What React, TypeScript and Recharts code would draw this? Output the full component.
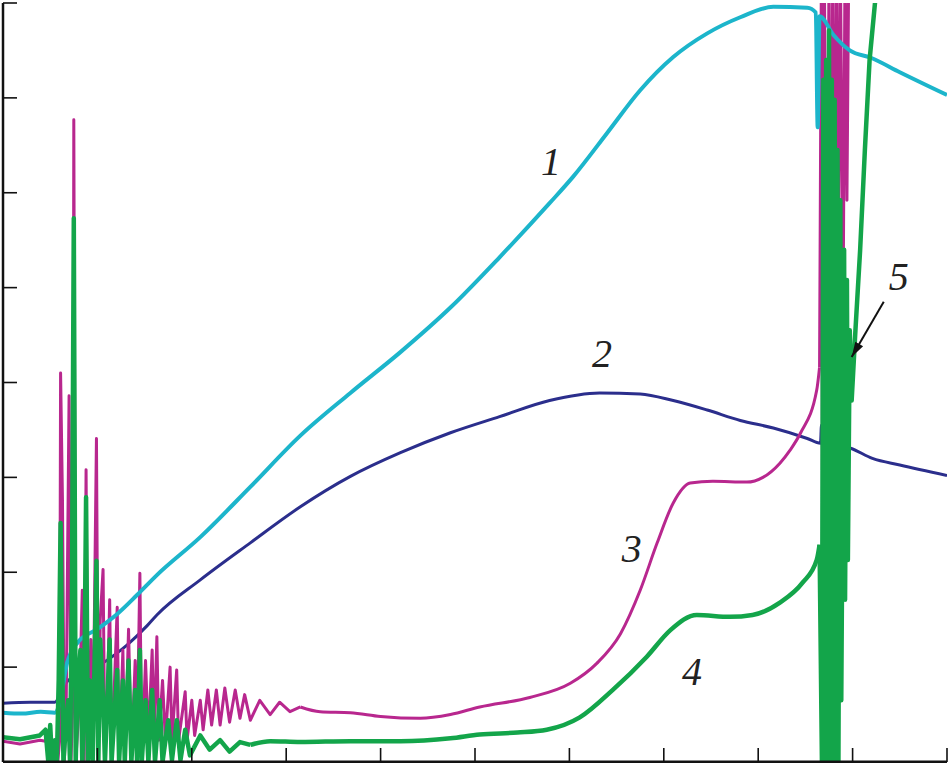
import React from "react";
import { LineChart, Line, XAxis, YAxis, ReferenceDot, ReferenceLine } from "recharts";

// axis ticks (no labels in the figure, only inward tick marks)
const xTicks = [0, 1, 2, 3, 4, 5, 6, 7, 8, 9, 10];
const yTicks = [0, 1, 2, 3, 4, 5, 6, 7, 8];

// curve 1 (cyan)
const curve1: [number, number][] = [
  [0, 0.52], [0.2, 0.51], [0.4, 0.53], [0.55, 0.52], [0.6, 0.62], [0.68, 1.05], [0.8, 1.27], [1.0, 1.4],
  [1.21, 1.56], [1.42, 1.76], [1.63, 1.97], [2.09, 2.37], [2.62, 2.9], [3.15, 3.44], [3.68, 3.89],
  [4.21, 4.32], [4.74, 4.79], [5.26, 5.32], [5.79, 5.89], [6.04, 6.17], [6.4, 6.63], [6.75, 7.08],
  [7.1, 7.43], [7.46, 7.68], [7.81, 7.85], [8.16, 7.96], [8.52, 7.95], [8.61, 7.9], [8.63, 6.69],
  [8.65, 7.86], [8.8, 7.66], [8.97, 7.5], [9.2, 7.42], [9.5, 7.27], [10, 7.03],
];

// curve 2 (dark blue)
const curve2: [number, number][] = [
  [0, 0.62], [0.29, 0.63], [0.55, 0.63], [0.64, 0.8], [0.9, 0.98], [1.05, 1.04], [1.21, 1.15],
  [1.31, 1.23], [1.53, 1.44], [1.63, 1.55], [2.09, 1.92], [2.62, 2.31], [3.15, 2.69], [3.68, 3.01],
  [4.21, 3.26], [4.74, 3.47], [5.26, 3.64], [5.79, 3.81], [6.32, 3.89], [6.75, 3.88], [7.1, 3.81],
  [7.46, 3.71], [7.81, 3.6], [8.16, 3.52], [8.52, 3.41], [8.66, 3.36], [8.67, 3.55], [8.69, 3.15],
  [8.7, 3.35], [8.97, 3.31], [9.21, 3.2], [9.5, 3.13], [10, 3.02],
];

// curve 3 (magenta): oscillating start, smooth rise, burst
const curve3Start: [number, number][] = [
  [0, 0.22], [0.18, 0.19], [0.39, 0.23], [0.5, 0.21], [0.56, 0.22],
  [0.58, 0], [0.6, 0.23], [0.61, 4.1], [0.63, 2.76], [0.65, 0], [0.67, 0.65], [0.7, 3.86], [0.72, 0],
  [0.74, 0.65], [0.75, 6.77], [0.77, 0], [0.81, 0.65], [0.84, 1.81], [0.86, 0], [0.88, 3.08], [0.9, 0],
  [0.93, 1.29], [0.95, 0], [0.99, 3.41], [1.01, 0], [1.03, 1.5], [1.06, 2.03], [1.08, 0], [1.11, 0.86],
  [1.13, 1.71], [1.15, 0], [1.21, 1.63], [1.23, 0], [1.27, 1.18], [1.29, 0], [1.33, 1.4], [1.36, 0],
  [1.4, 1.07], [1.42, 0.23], [1.45, 1.99], [1.47, 0], [1.51, 1.07], [1.54, 0.23], [1.58, 1.18],
  [1.6, 0.23], [1.63, 1.32], [1.65, 0.23], [1.69, 0.86], [1.72, 0.23], [1.77, 1.0], [1.79, 0.23],
  [1.84, 0.97], [1.86, 0.23], [1.93, 0.74], [1.95, 0.23], [2.0, 0.65], [2.03, 0.28], [2.09, 0.65],
  [2.12, 0.34], [2.17, 0.76], [2.21, 0.39], [2.26, 0.76], [2.3, 0.39], [2.35, 0.78], [2.4, 0.42],
  [2.46, 0.76], [2.51, 0.46], [2.56, 0.71], [2.62, 0.44], [2.72, 0.65], [2.83, 0.5], [2.93, 0.63],
  [3.04, 0.53], [3.15, 0.58],
];
const curve3Rise: [number, number][] = [
  [3.15, 0.58], [3.36, 0.53], [3.68, 0.52], [4.0, 0.48], [4.42, 0.46], [4.74, 0.5],
  [5.05, 0.58], [5.58, 0.68], [6.01, 0.83], [6.29, 1.04], [6.54, 1.35], [6.75, 1.81], [6.93, 2.31],
  [7.1, 2.73], [7.28, 2.94], [7.52, 2.96], [7.88, 2.95], [8.05, 3.0], [8.23, 3.15], [8.34, 3.29],
  [8.45, 3.47], [8.62, 3.92], [8.65, 4.16],
];
const curve3Burst: [number, number][] = [
  [8.65, 4.16], [8.67, 8.5], [8.68, 3.08], [8.7, 8.5], [8.73, 3.6], [8.75, 8.5], [8.77, 4.34], [8.79, 8.5],
  [8.81, 4.87], [8.83, 8.5], [8.85, 5.08], [8.87, 8.5], [8.9, 4.87], [8.92, 8.5], [8.94, 5.92], [8.96, 8.5],
];

// curve 4 (green): oscillating start, smooth rise, burst (5)
const curve4Start: [number, number][] = [
  [0, 0.26], [0.18, 0.24], [0.39, 0.28], [0.45, 0.34], [0.48, 0], [0.5, 0.39], [0.52, 0], [0.55, 0.23],
  [0.57, 0], [0.59, 0.86], [0.61, 2.52], [0.64, 0], [0.67, 0.44], [0.69, 0.65], [0.71, 0], [0.73, 1.71],
  [0.75, 5.73], [0.77, 0], [0.79, 0.76], [0.82, 1.18], [0.84, 0], [0.86, 0.65], [0.88, 2.79], [0.9, 0],
  [0.92, 0.86], [0.95, 0], [0.99, 2.12], [1.01, 0], [1.03, 1.29], [1.06, 0.65], [1.08, 0], [1.13, 1.29],
  [1.15, 0], [1.21, 0.97], [1.23, 0], [1.27, 0.86], [1.29, 0], [1.33, 1.07], [1.36, 0], [1.4, 0.76],
  [1.42, 0], [1.45, 1.18], [1.47, 0], [1.51, 0.65], [1.54, 0], [1.58, 0.76], [1.61, 0], [1.66, 0.65],
  [1.69, 0], [1.75, 0.44], [1.79, 0.02], [1.84, 0.44], [1.88, 0.02], [1.93, 0.34], [1.98, 0.07],
  [2.09, 0.28], [2.19, 0.13], [2.3, 0.23], [2.4, 0.11], [2.51, 0.21], [2.62, 0.18],
];
const curve4Rise: [number, number][] = [
  [2.62, 0.18], [2.83, 0.22], [3.15, 0.21], [3.68, 0.22], [4.21, 0.22], [4.74, 0.25], [5.05, 0.29],
  [5.45, 0.31], [5.76, 0.34], [6.11, 0.47], [6.46, 0.76], [6.82, 1.11], [7.07, 1.39], [7.35, 1.55],
  [7.7, 1.53], [7.94, 1.55], [8.23, 1.68], [8.47, 1.89], [8.62, 2.13], [8.65, 2.29],
];
const curve4Burst: [number, number][] = [
  [8.65, 2.29], [8.675, 0], [8.69, 7.19], [8.7, 0], [8.72, 7.4], [8.73, 0], [8.75, 7.71], [8.76, 0],
  [8.78, 7.19], [8.79, 0], [8.81, 6.98], [8.82, 0], [8.84, 6.45], [8.85, 0], [8.87, 5.92], [8.88, 0.65],
  [8.91, 5.4], [8.92, 1.71], [8.94, 5.08], [8.95, 2.13], [8.97, 4.55], [8.99, 3.81], [9.03, 4.55],
  [9.08, 5.4], [9.13, 6.45], [9.18, 7.4], [9.24, 8.03], [9.26, 8.3],
];

// curve numbers: [text, x, y]
const curveLabels: [string, number, number][] = [
  ["1", 5.805, 6.33],
  ["2", 6.345, 4.31],
  ["3", 6.66, 2.255],
  ["4", 7.3, 0.95],
  ["5", 9.49, 5.12],
];

// arrow for label 5: from, to
const arrowFrom = { x: 9.33, y: 4.85 };
const arrowTo = { x: 8.99, y: 4.27 };

const toRows = (pts: [number, number][]) => pts.map(([x, y]) => ({ x, y }));

const CYAN = "#1cb5cb";
const BLUE = "#2b2e8c";
const MAGENTA = "#b8278e";
const GREEN = "#13a54a";

const LabelText = (text: string) => (props: any) => (
  <text
    x={props.cx}
    y={props.cy + 13.5}
    textAnchor="middle"
    fontFamily="'Liberation Serif', 'DejaVu Serif', serif"
    fontStyle="italic"
    fontSize={40}
    fill="#222"
  >
    {text}
  </text>
);

const ArrowHead = (props: any) => {
  const { cx, cy } = props;
  // direction of the shaft (pointing down-left)
  const dx = -0.503;
  const dy = 0.865;
  const len = 15;
  const hw = 4.5;
  const bx = cx - dx * len;
  const by = cy - dy * len;
  const pts = `${cx},${cy} ${bx - dy * hw},${by + dx * hw} ${bx + dy * hw},${by - dx * hw}`;
  return <polygon points={pts} fill="#111" />;
};

const common = { dataKey: "y", dot: false, isAnimationActive: false, strokeLinejoin: "round" as const };

export default function App() {
  return (
    <div style={{ position: "absolute", left: 0, top: 0, background: "#fff" }}>
      <LineChart width={949} height={763} margin={{ top: 3, right: 2, bottom: 1, left: 3 }}>
        <XAxis
          type="number"
          dataKey="x"
          domain={[0, 10]}
          ticks={xTicks}
          mirror
          tickSize={14}
          tickFormatter={() => ""}
          axisLine={{ stroke: "#111", strokeWidth: 3 }}
          tickLine={{ stroke: "#111", strokeWidth: 1.6 }}
          allowDataOverflow
        />
        <YAxis
          type="number"
          dataKey="y"
          domain={[0, 8]}
          ticks={yTicks}
          mirror
          tickSize={14}
          tickFormatter={() => ""}
          axisLine={{ stroke: "#111", strokeWidth: 2.5 }}
          tickLine={{ stroke: "#111", strokeWidth: 1.6 }}
          allowDataOverflow
        />
        <Line {...common} data={toRows(curve2)} type="monotone" stroke={BLUE} strokeWidth={3} />
        <Line {...common} data={toRows(curve3Start)} type="linear" stroke={MAGENTA} strokeWidth={3} />
        <Line {...common} data={toRows(curve3Rise)} type="monotone" stroke={MAGENTA} strokeWidth={3} />
        <Line {...common} data={toRows(curve3Burst)} type="linear" stroke={MAGENTA} strokeWidth={3} />
        <Line {...common} data={toRows(curve1)} type="monotone" stroke={CYAN} strokeWidth={4} />
        <Line {...common} data={toRows(curve4Start)} type="linear" stroke={GREEN} strokeWidth={4.5} />
        <Line {...common} data={toRows(curve4Rise)} type="monotone" stroke={GREEN} strokeWidth={4.5} />
        <Line {...common} data={toRows(curve4Burst)} type="linear" stroke={GREEN} strokeWidth={4.5} />
        <ReferenceLine segment={[arrowFrom, arrowTo]} stroke="#111" strokeWidth={2} />
        <ReferenceDot x={arrowTo.x} y={arrowTo.y} r={1} shape={ArrowHead} />
        {curveLabels.map(([t, x, y]) => (
          <ReferenceDot key={t} x={x} y={y} r={1} shape={LabelText(t)} />
        ))}
      </LineChart>
    </div>
  );
}
